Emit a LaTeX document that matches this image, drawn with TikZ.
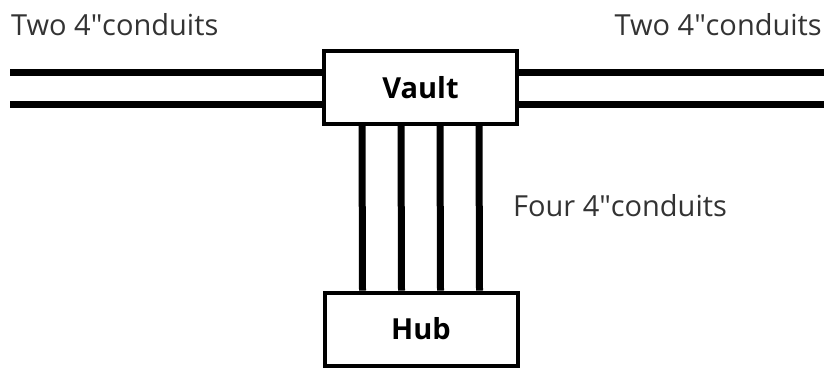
\documentclass[tikz,border=0pt]{standalone}
\usepackage{fontspec}
\setmainfont{Open Sans}
\usepackage{tikz}
\usetikzlibrary{positioning}

\tikzset{
  box/.style={draw,line width=4pt,fill=white,minimum width=193pt,minimum height=73pt,font=\fontsize{29}{31}\selectfont\bfseries},
  conduit/.style={line width=7pt},
  lbl/.style={anchor=base west,inner sep=0pt,font=\fontsize{29}{31}\selectfont\color{black!80}}
}

\begin{document}
\begin{tikzpicture}[x=1pt,y=-1pt]
  \useasboundingbox (0,0) rectangle (824,368);
  \node[box] (vault) at (420.5,87.5) {Vault};
  \node[box] (hub) at (421,329) {Hub};
  \coordinate (wa) at (10,72);
  \coordinate (wb) at (10,104);
  \coordinate (ea) at (824,72);
  \coordinate (eb) at (824,104);
  \draw[conduit] (wa) -- (wa -| vault.west);
  \draw[conduit] (wb) -- (wb -| vault.west);
  \draw[conduit] (ea) -- (ea -| vault.east);
  \draw[conduit] (eb) -- (eb -| vault.east);
  \foreach \dx in {-58.5,-19.5,19.5,58.5}
    \draw[conduit] ([xshift=\dx pt]vault.south) -- ([xshift=\dx pt]hub.north);
  \node[lbl] (twowest) at (11,35) {Two 4″conduits};
  \node[lbl,anchor=base east] (twoeast) at (822,35) {Two 4″conduits};
  \node[lbl] (four) at (513,216) {Four 4″conduits};
\end{tikzpicture}
\end{document}
